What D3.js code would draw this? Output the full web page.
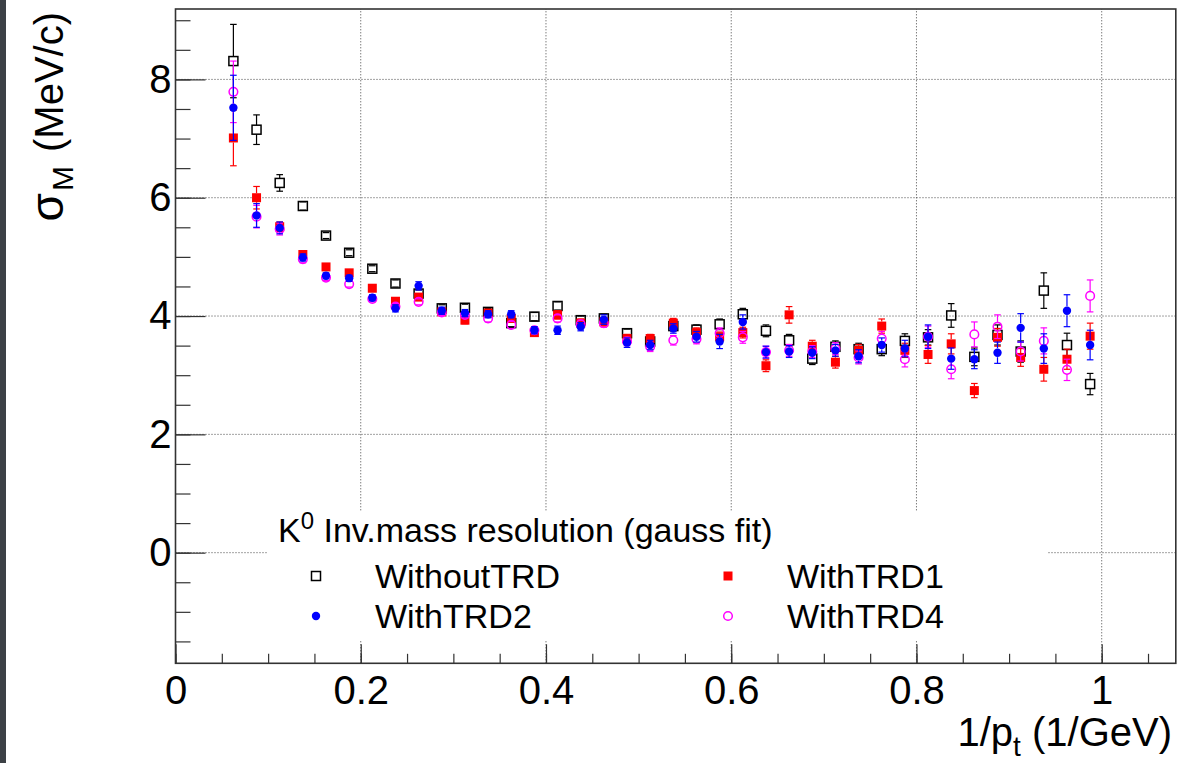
<!DOCTYPE html>
<html>
<head>
<meta charset="utf-8">
<script src="https://cdn.jsdelivr.net/npm/d3@7"></script>
<style>
  body { margin: 0; background: #fff; }
  svg { display: block; }
  text { font-family: "Liberation Sans", Arial, Helvetica, sans-serif; fill: #000; }
</style>
</head>
<body>
<svg id="chart" width="1179" height="763"></svg>
<script>
// 1/pt bin centres
var invPt = [0.0625, 0.0875, 0.1125, 0.1375, 0.1625, 0.1875, 0.2125, 0.2375,
  0.2625, 0.2875, 0.3125, 0.3375, 0.3625, 0.3875, 0.4125, 0.4375,
  0.4625, 0.4875, 0.5125, 0.5375, 0.5625, 0.5875, 0.6125, 0.6375,
  0.6625, 0.6875, 0.7125, 0.7375, 0.7625, 0.7875, 0.8125, 0.8375,
  0.8625, 0.8875, 0.9125, 0.9375, 0.9625, 0.9875];

// sigma_M values (MeV/c)
var withoutTRD = [8.31, 7.15, 6.25, 5.86, 5.36, 5.07, 4.80, 4.55,
  4.38, 4.13, 4.14, 4.07, 3.88, 3.99, 4.17, 3.93,
  3.96, 3.71, 3.57, 3.83, 3.77, 3.86, 4.03, 3.75,
  3.59, 3.28, 3.48, 3.44, 3.44, 3.58, 3.64, 4.01,
  3.31, 3.68, 3.40, 4.43, 3.51, 2.85];
var withTRD1 = [7.01, 6.00, 5.51, 5.04, 4.83, 4.73, 4.47, 4.25,
  4.32, 4.07, 3.93, 4.05, 3.96, 3.72, 4.02, 3.88,
  3.90, 3.62, 3.62, 3.88, 3.72, 3.65, 3.72, 3.16,
  4.02, 3.49, 3.22, 3.42, 3.83, 3.42, 3.35, 3.53,
  2.74, 3.64, 3.30, 3.10, 3.27, 3.66];
var withTRD2 = [7.52, 5.70, 5.49, 4.99, 4.68, 4.64, 4.31, 4.13,
  4.51, 4.09, 4.05, 4.03, 4.03, 3.76, 3.76, 3.82,
  3.94, 3.55, 3.51, 3.79, 3.65, 3.57, 3.90, 3.39,
  3.40, 3.38, 3.42, 3.32, 3.51, 3.45, 3.65, 3.28,
  3.27, 3.38, 3.80, 3.45, 4.09, 3.51];
var withTRD4 = [7.79, 5.68, 5.47, 4.96, 4.65, 4.54, 4.29, 4.16,
  4.24, 4.06, 4.02, 3.96, 3.85, 3.76, 3.96, 3.86,
  3.88, 3.57, 3.48, 3.59, 3.61, 3.71, 3.64, 3.39,
  3.42, 3.40, 3.45, 3.30, 3.62, 3.27, 3.65, 3.10,
  3.69, 3.82, 3.40, 3.58, 3.09, 4.34];

// errors
var errWithoutTRD = [0.62, 0.25, 0.14, 0.07, 0.05, 0.05, 0.05, 0.06,
  0.06, 0.06, 0.06, 0.06, 0.06, 0.07, 0.07, 0.07,
  0.07, 0.07, 0.07, 0.08, 0.08, 0.09, 0.10, 0.10,
  0.10, 0.10, 0.10, 0.10, 0.11, 0.12, 0.13, 0.20,
  0.15, 0.17, 0.18, 0.30, 0.20, 0.18];
var errWithTRD1 = [0.47, 0.19, 0.08, 0.06, 0.05, 0.05, 0.05, 0.05,
  0.05, 0.05, 0.06, 0.06, 0.06, 0.06, 0.07, 0.07,
  0.07, 0.07, 0.07, 0.08, 0.08, 0.08, 0.09, 0.10,
  0.14, 0.10, 0.10, 0.10, 0.12, 0.12, 0.15, 0.17,
  0.12, 0.15, 0.15, 0.20, 0.17, 0.22];
var errWithTRD2 = [0.55, 0.20, 0.10, 0.06, 0.05, 0.05, 0.05, 0.06,
  0.07, 0.06, 0.06, 0.06, 0.06, 0.06, 0.07, 0.07,
  0.08, 0.08, 0.08, 0.08, 0.09, 0.12, 0.12, 0.10,
  0.10, 0.10, 0.10, 0.11, 0.12, 0.14, 0.20, 0.18,
  0.16, 0.18, 0.24, 0.25, 0.27, 0.25];
var errWithTRD4 = [0.52, 0.19, 0.10, 0.06, 0.05, 0.05, 0.05, 0.05,
  0.05, 0.05, 0.05, 0.06, 0.06, 0.06, 0.06, 0.07,
  0.07, 0.07, 0.08, 0.08, 0.08, 0.09, 0.10, 0.10,
  0.10, 0.10, 0.10, 0.11, 0.12, 0.13, 0.18, 0.16,
  0.21, 0.20, 0.16, 0.22, 0.18, 0.27];

var xMajorTicks = [0, 0.2, 0.4, 0.6, 0.8, 1];
var yMajorTicks = [0, 2, 4, 6, 8];

var svg = d3.select('#chart');

// dark strip on the left edge
svg.append('rect')
  .attr('x', 0).attr('y', 0)
  .attr('width', 6).attr('height', 763)
  .attr('fill', '#3c4146');

var x = d3.scaleLinear()
  .domain([0, 1.08])
  .range([175.5, 1175.8]);

var y = d3.scaleLinear()
  .domain([-1.87, 9.19])
  .range([663.3, 9]);

// grid
var grid = svg.append('g').attr('class', 'grid');
grid.selectAll('line.gx')
  .data(xMajorTicks.filter(function(d) { return d > 0; }))
  .enter().append('line')
    .attr('x1', function(d) { return x(d); })
    .attr('x2', function(d) { return x(d); })
    .attr('y1', y.range()[0])
    .attr('y2', y.range()[1])
    .attr('stroke', '#444')
    .attr('stroke-width', 1)
    .attr('stroke-dasharray', '1,2');
grid.selectAll('line.gy')
  .data(yMajorTicks)
  .enter().append('line')
    .attr('x1', x.range()[0])
    .attr('x2', x.range()[1])
    .attr('y1', function(d) { return y(d); })
    .attr('y2', function(d) { return y(d); })
    .attr('stroke', '#444')
    .attr('stroke-width', 1)
    .attr('stroke-dasharray', '1,2');

// axes (ticks point inside the frame, ROOT style)
var xMinor = d3.axisBottom(x)
  .tickValues(d3.range(0, 1.08, 0.05))
  .tickSize(-9.5)
  .tickFormat('');
svg.append('g')
  .attr('transform', 'translate(0,' + y.range()[0] + ')')
  .call(xMinor);

var xAxis = d3.axisBottom(x)
  .tickValues(xMajorTicks)
  .tickSize(-19)
  .tickPadding(12)
  .tickFormat(d3.format('~g'));
svg.append('g')
  .attr('class', 'xaxis')
  .attr('transform', 'translate(0,' + y.range()[0] + ')')
  .call(xAxis);

var yMinor = d3.axisLeft(y)
  .tickValues(d3.range(-1.5, 9.1, 0.5))
  .tickSize(-15)
  .tickFormat('');
svg.append('g')
  .attr('transform', 'translate(' + x.range()[0] + ',0)')
  .call(yMinor);

var yAxis = d3.axisLeft(y)
  .tickValues(yMajorTicks)
  .tickSize(-30)
  .tickPadding(4)
  .tickFormat(d3.format('d'));
svg.append('g')
  .attr('class', 'yaxis')
  .attr('transform', 'translate(' + x.range()[0] + ',0)')
  .call(yAxis);

svg.selectAll('.domain').remove();
svg.selectAll('.tick line').attr('stroke', '#333').attr('stroke-width', 1.2);
svg.selectAll('.xaxis text, .yaxis text')
  .style('font-size', '40px')
  .attr('fill', '#000');

// frame
svg.append('rect')
  .attr('x', x.range()[0])
  .attr('y', y.range()[1])
  .attr('width', x.range()[1] - x.range()[0])
  .attr('height', y.range()[0] - y.range()[1])
  .attr('fill', 'none')
  .attr('stroke', '#333')
  .attr('stroke-width', 1.6);

// axis titles
var yt = svg.append('text')
  .attr('transform', 'translate(63,12) rotate(-90)')
  .attr('text-anchor', 'end')
  .style('font-size', '40px');
yt.append('tspan').style('font-size', '46px').text('σ');
yt.append('tspan').attr('dx', 2).attr('dy', 10).style('font-size', '30px').text('M');
yt.append('tspan').attr('dx', 14).attr('dy', -10).text('(MeV/c)');

var xt = svg.append('text')
  .attr('x', 1172)
  .attr('y', 746)
  .attr('text-anchor', 'end')
  .style('font-size', '40px');
xt.append('tspan').text('1/p');
xt.append('tspan').attr('dy', 10).style('font-size', '28px').text('t');
xt.append('tspan').attr('dy', -10).text(' (1/GeV)');

// series
var series = [
  { name: 'WithoutTRD', values: withoutTRD, errs: errWithoutTRD, color: '#000000', shape: 'square', filled: false },
  { name: 'WithTRD1', values: withTRD1, errs: errWithTRD1, color: '#ff0000', shape: 'square', filled: true },
  { name: 'WithTRD4', values: withTRD4, errs: errWithTRD4, color: '#ff00ff', shape: 'circle', filled: false },
  { name: 'WithTRD2', values: withTRD2, errs: errWithTRD2, color: '#0000ff', shape: 'circle', filled: true }
];

var half = 4.5;
var cap = 3.3;

function drawMarker(g, shape, filled, color, cx, cy) {
  if (shape === 'square') {
    g.append('rect')
      .attr('x', cx - half)
      .attr('y', cy - half)
      .attr('width', half * 2)
      .attr('height', half * 2)
      .attr('fill', filled ? color : 'none')
      .attr('stroke', color)
      .attr('stroke-width', filled ? 0 : 1.5);
  } else {
    g.append('circle')
      .attr('cx', cx)
      .attr('cy', cy)
      .attr('r', filled ? half - 0.3 : half - 0.2)
      .attr('fill', filled ? color : 'none')
      .attr('stroke', color)
      .attr('stroke-width', filled ? 0 : 1.5);
  }
}

series.forEach(function(s) {
  var g = svg.append('g').attr('class', 'series');
  s.values.forEach(function(v, i) {
    var cx = x(invPt[i]);
    var cy = y(v);
    var top = y(v + s.errs[i]);
    var bot = y(v - s.errs[i]);
    if (top < cy - half) {
      g.append('line')
        .attr('x1', cx).attr('x2', cx)
        .attr('y1', top).attr('y2', cy - half)
        .attr('stroke', s.color).attr('stroke-width', 1.2);
    }
    if (bot > cy + half) {
      g.append('line')
        .attr('x1', cx).attr('x2', cx)
        .attr('y1', cy + half).attr('y2', bot)
        .attr('stroke', s.color).attr('stroke-width', 1.2);
    }
    [top, bot].forEach(function(yy) {
      g.append('line')
        .attr('x1', cx - cap).attr('x2', cx + cap)
        .attr('y1', yy).attr('y2', yy)
        .attr('stroke', s.color).attr('stroke-width', 1.2);
    });
    drawMarker(g, s.shape, s.filled, s.color, cx, cy);
  });
});

// legend
var legend = svg.append('g').attr('class', 'legend');
legend.append('rect')
  .attr('x', 268).attr('y', 512)
  .attr('width', 779).attr('height', 128)
  .attr('fill', '#fff');

var ht = legend.append('text')
  .attr('x', 278)
  .attr('y', 542)
  .style('font-size', '34px');
ht.append('tspan').text('K');
ht.append('tspan').attr('dy', -13).style('font-size', '24px').text('0');
ht.append('tspan').attr('dy', 13).text(' Inv.mass resolution (gauss fit)');

var legendItems = [
  { s: series[0], mx: 316, tx: 375, cy: 576 },
  { s: series[1], mx: 728, tx: 787, cy: 576 },
  { s: series[3], mx: 316, tx: 375, cy: 616 },
  { s: series[2], mx: 728, tx: 787, cy: 616 }
];
legendItems.forEach(function(it) {
  drawMarker(legend, it.s.shape, it.s.filled, it.s.color, it.mx, it.cy);
  legend.append('text')
    .attr('x', it.tx)
    .attr('y', it.cy + 12)
    .style('font-size', '34px')
    .text(it.s.name);
});
</script>
</body>
</html>
